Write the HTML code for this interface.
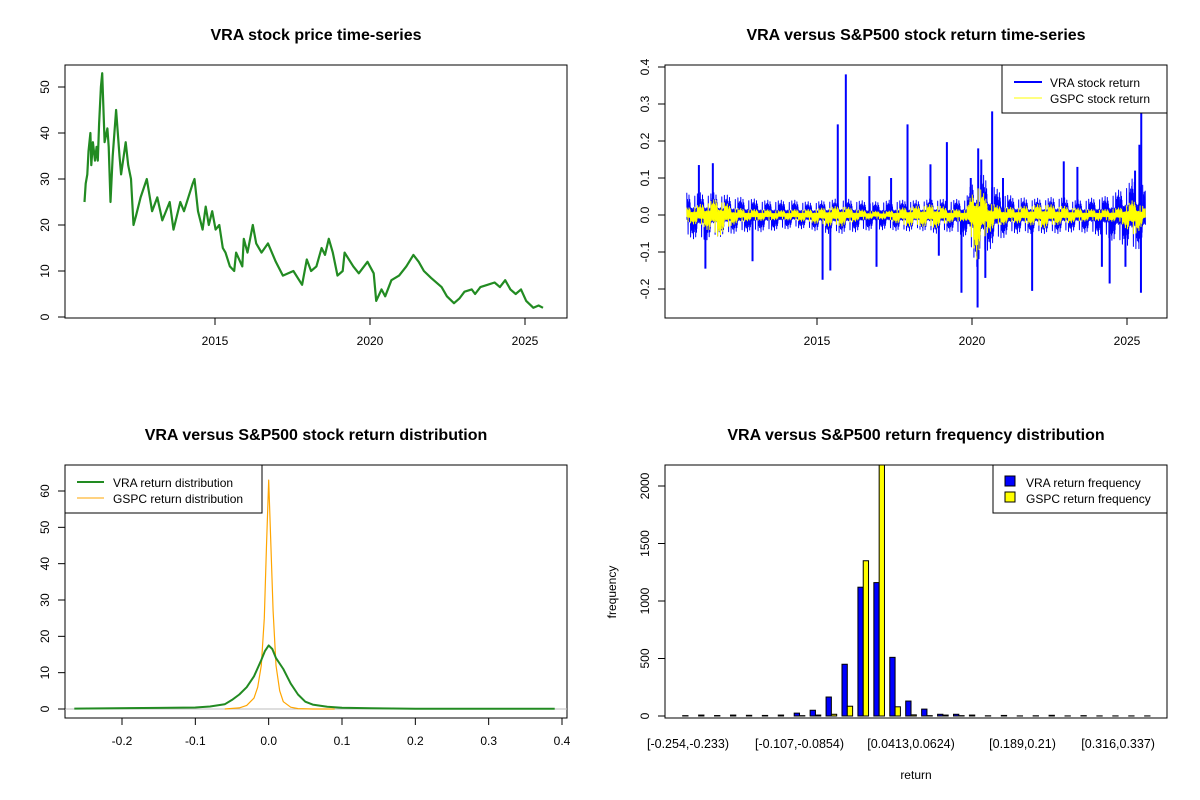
<!DOCTYPE html>
<html><head><meta charset="utf-8"><style>
body{margin:0;background:#fff}
svg{display:block;font-family:"Liberation Sans",Arial,sans-serif}
</style></head><body>
<svg id="svg" width="1200" height="800" viewBox="0 0 1200 800" xmlns="http://www.w3.org/2000/svg">
<rect width="1200" height="800" fill="#fff"/>
</svg>
<script>
// ---- panel 1: price ----
const priceYears=[2010.79,2010.83,2010.88,2010.92,2010.98,2011.01,2011.06,2011.13,2011.18,2011.22,2011.26,2011.32,2011.36,2011.44,2011.53,2011.57,2011.63,2011.70,2011.81,2011.92,2011.97,2012.12,2012.20,2012.29,2012.37,2012.45,2012.60,2012.80,2012.97,2013.14,2013.30,2013.54,2013.66,2013.88,2014.00,2014.28,2014.34,2014.45,2014.60,2014.70,2014.80,2014.91,2015.02,2015.14,2015.25,2015.34,2015.48,2015.62,2015.68,2015.88,2015.93,2016.05,2016.22,2016.33,2016.50,2016.71,2016.96,2017.19,2017.53,2017.81,2017.96,2018.10,2018.27,2018.44,2018.55,2018.67,2018.80,2018.95,2019.12,2019.18,2019.46,2019.64,2019.92,2020.12,2020.20,2020.37,2020.49,2020.69,2020.94,2021.17,2021.40,2021.57,2021.74,2021.97,2022.31,2022.48,2022.71,2022.88,2023.05,2023.28,2023.39,2023.56,2023.79,2024.02,2024.19,2024.36,2024.53,2024.70,2024.87,2025.04,2025.27,2025.44,2025.58];
const priceVals=[25,29,31,36,40,33,38,34,37,34,42,50,53,38,41,37,25,35,45,35,31,38,33,30,20,22,26,30,23,26,21,25,19,25,23,29,30,23,19,24,20,23,19,20,15,14,11,10,14,11,17,14,20,16,14,16,12,9,10,7,12.5,10,11,15,13.5,17,14,9,10,14,11,9.5,12,9.5,3.5,6,4.5,8,9,11,13.5,12,10,8.5,6.5,4.5,3,4,5.5,6,5,6.5,7,7.5,6.5,8,6,5,6,3.5,2,2.5,2];
const priceTicksY=[0,10,20,30,40,50];
const yearTicks=[2015,2020,2025];
// ---- panel 2: returns ----
const bandYears=[2010.8,2011.3,2011.8,2012.3,2012.8,2013.3,2013.8,2014.3,2014.8,2015.3,2015.8,2016.3,2016.8,2017.3,2017.8,2018.3,2018.8,2019.3,2019.8,2020.15,2020.5,2020.8,2021.3,2021.8,2022.3,2022.8,2023.3,2023.8,2024.3,2024.8,2025.2,2025.6];
const vraHi=[0.06,0.06,0.06,0.05,0.045,0.04,0.04,0.04,0.035,0.04,0.045,0.04,0.035,0.04,0.04,0.04,0.045,0.04,0.045,0.12,0.1,0.07,0.05,0.045,0.045,0.05,0.04,0.045,0.05,0.07,0.1,0.08];
const vraLo=[-0.06,-0.07,-0.06,-0.05,-0.045,-0.045,-0.04,-0.035,-0.04,-0.05,-0.05,-0.045,-0.04,-0.04,-0.045,-0.04,-0.05,-0.045,-0.06,-0.14,-0.1,-0.07,-0.05,-0.05,-0.05,-0.05,-0.045,-0.05,-0.06,-0.08,-0.1,-0.08];
const gspcHi=[0.02,0.03,0.045,0.02,0.015,0.015,0.012,0.015,0.015,0.02,0.025,0.015,0.01,0.01,0.02,0.025,0.03,0.015,0.015,0.09,0.04,0.025,0.02,0.025,0.03,0.025,0.02,0.015,0.015,0.02,0.04,0.02];
const gspcLo=[-0.02,-0.03,-0.06,-0.025,-0.015,-0.015,-0.012,-0.015,-0.02,-0.03,-0.03,-0.015,-0.01,-0.012,-0.03,-0.03,-0.035,-0.02,-0.015,-0.12,-0.05,-0.03,-0.02,-0.025,-0.035,-0.025,-0.02,-0.015,-0.015,-0.02,-0.06,-0.02];
const spikeYears=[2011.19,2011.64,2015.67,2015.93,2016.69,2017.39,2017.92,2018.66,2019.19,2019.96,2020.20,2020.30,2020.65,2021.0,2022.96,2023.40,2025.46,2025.40,2025.26,2011.40,2012.92,2015.18,2015.43,2016.92,2018.93,2019.66,2020.18,2020.43,2021.94,2024.44,2024.19,2025.45,2024.95];
const spikeVals=[0.135,0.14,0.245,0.38,0.105,0.10,0.245,0.137,0.197,0.10,0.18,0.15,0.28,0.10,0.145,0.13,0.28,0.19,0.12,-0.145,-0.125,-0.175,-0.15,-0.14,-0.11,-0.21,-0.25,-0.17,-0.205,-0.185,-0.14,-0.21,-0.14];
const retTicksY=[-0.2,-0.1,0,0.1,0.2,0.3,0.4];
// ---- panel 3: densities ----
const vraDensX=[-0.265,-0.15,-0.1,-0.08,-0.06,-0.05,-0.04,-0.03,-0.02,-0.01,-0.005,0,0.005,0.01,0.02,0.03,0.04,0.05,0.06,0.08,0.1,0.14,0.2,0.39];
const vraDensY=[0.1,0.3,0.4,0.7,1.3,2.5,4,6,9,13.5,16,17.5,16.5,14,11,7,4,2,1.2,0.6,0.35,0.2,0.05,0.05];
const gspcDensX=[-0.06,-0.04,-0.03,-0.02,-0.015,-0.01,-0.006,-0.003,0,0.003,0.006,0.01,0.015,0.02,0.03,0.04,0.06,0.09];
const gspcDensY=[0,0.3,1,3,6,12,25,45,63,45,27,12,5,2,0.5,0.1,0,0];
const densTicksX=[-0.2,-0.1,0,0.1,0.2,0.3,0.4];
const densTicksXLab=["-0.2","-0.1","0.0","0.1","0.2","0.3","0.4"];
const densTicksY=[0,10,20,30,40,50,60];
// ---- panel 4: histogram ----
const binLabels=["[-0.254,-0.233)","[-0.107,-0.0854)","[0.0413,0.0624)","[0.189,0.21)","[0.316,0.337)"];
const binLabelIdx=[0,7,14,21,27];
const vraFreq=[3,8,4,8,6,5,8,25,50,165,450,1120,1160,510,130,60,15,15,8,2,5,1,2,6,1,3,1,1,1,1];
const gspcFreq=[0,0,0,0,0,0,0,3,8,15,85,1350,2230,80,10,3,8,3,0,0,0,0,0,0,0,0,0,0,0,0];
const freqTicks=[0,500,1000,1500,2000];

const S=document.getElementById('svg');
function el(t,a,txt){const e=document.createElementNS('http://www.w3.org/2000/svg',t);for(const k in a)e.setAttribute(k,a[k]);if(txt!==undefined)e.textContent=txt;S.appendChild(e);return e;}
function lin(d0,d1,r0,r1){return v=>r0+(v-d0)/(d1-d0)*(r1-r0);}
function box(x0,y0,x1,y1,name){const b=el('rect',{x:x0,y:y0,width:x1-x0,height:y1-y0,fill:'none',stroke:'#000','stroke-width':1});

}
function title(x,y,t,name){const e=el('text',{x:x,y:y,'text-anchor':'middle','font-size':16,'font-weight':'bold'},t);

}
function xAxis(ticks,labs,sx,yb,name){const y=yb+0;el('line',{x1:sx(ticks[0]),x2:sx(ticks[ticks.length-1]),y1:y,y2:y,stroke:'#000'});
ticks.forEach((t,i)=>{el('line',{x1:sx(t),x2:sx(t),y1:y,y2:y+7,stroke:'#000'});const e=el('text',{x:sx(t),y:y+27,'text-anchor':'middle','font-size':12},labs[i]);

});}
function yAxis(ticks,labs,sy,xl,name){el('line',{x1:xl,x2:xl,y1:sy(ticks[0]),y2:sy(ticks[ticks.length-1]),stroke:'#000'});
ticks.forEach((t,i)=>{el('line',{x1:xl-7,x2:xl,y1:sy(t),y2:sy(t),stroke:'#000'});const e=el('text',{x:xl-16,y:sy(t),'text-anchor':'middle','font-size':12,transform:`rotate(-90 ${xl-16} ${sy(t)})`},labs[i]);

});}
function poly(xs,ys,sx,sy,col,w,name){const p=xs.map((x,i)=>sx(x).toFixed(1)+','+sy(ys[i]).toFixed(1)).join(' ');const e=el('polyline',{points:p,fill:'none',stroke:col,'stroke-width':w,'stroke-linejoin':'round'});

return e;}

// Panel 1
{const X0=65,X1=567,Y0=65,Y1=318;
const sx=lin(2015,2020,215,370),sy=lin(0,50,317,87);
box(X0,Y0,X1,Y1,'price-plot-box');title(316,40,'VRA stock price time-series','price-chart-title');
poly(priceYears,priceVals,sx,sy,'#228B22',2.2,'vra-price-line');
xAxis(yearTicks,yearTicks.map(String),sx,Y1,'price-x-axis');yAxis(priceTicksY,priceTicksY.map(String),sy,X0,'price-y-axis');}

// Panel 2
{const X0=665,X1=1167,Y0=65,Y1=318;
const sx=lin(2015,2020,817,972),sy=lin(0,0.4,215,67);
box(X0,Y0,X1,Y1,'return-plot-box');title(916,40,'VRA versus S&P500 stock return time-series','return-chart-title');
const pat=[1,0.2,0.5,0.1,0.7,0.3,0.15,0.85,0.4,0.05,0.6,0.25,0.9,0.1,0.45,0.3,0.7,0.2,0.55,0.12,0.35,0.95,0.18,0.5,0.08,0.65,0.3,0.4,0.22,0.75,0.1,0.6,0.28,0.45,0.15,0.8,0.33];
function band(hi,lo,col,w,name){const xs=[],ys=[];let k=0;
for(let i=0;i<bandYears.length-1;i++){const a=bandYears[i],b=bandYears[i+1];const n=Math.round((b-a)*170);
for(let j=0;j<n;j++){const t=a+(b-a)*j/n;const f=pat[k%pat.length];const h=hi[i]+(hi[i+1]-hi[i])*j/n,l=lo[i]+(lo[i+1]-lo[i])*j/n;xs.push(t);ys.push(k%2?l*f:h*f);k++;}}
poly(xs,ys,sx,sy,col,w,name);}
band(vraHi,vraLo,'#0000FF',1,'vra-return-band');
spikeYears.forEach((t,i)=>{const e=el('line',{x1:sx(t),x2:sx(t),y1:sy(0),y2:sy(spikeVals[i]),stroke:'#0000FF','stroke-width':2});

});
band(gspcHi,gspcLo,'#FFFF00',1,'gspc-return-band');
xAxis(yearTicks,yearTicks.map(String),sx,Y1,'return-x-axis');yAxis(retTicksY,retTicksY.map(v=>v===0?'0.0':String(v)),sy,X0,'return-y-axis');
el('rect',{x:1002,y:65,width:165,height:48,fill:'#fff',stroke:'#000'});
el('line',{x1:1014,x2:1042,y1:82,y2:82,stroke:'#0000FF','stroke-width':2});el('text',{x:1050,y:87,'font-size':12},'VRA stock return');
el('line',{x1:1014,x2:1042,y1:98,y2:98,stroke:'#FFFF00','stroke-width':1});el('text',{x:1050,y:103,'font-size':12},'GSPC stock return');}

// Panel 3
{const X0=65,X1=567,Y0=465,Y1=718;
const sx=lin(-0.2,0.4,122,562),sy=lin(0,60,709,491);
box(X0,Y0,X1,Y1,'density-plot-box');title(316,440,'VRA versus S&P500 stock return distribution','density-chart-title');
el('line',{x1:X0,x2:X1,y1:sy(0),y2:sy(0),stroke:'#bebebe'});
poly(gspcDensX,gspcDensY,sx,sy,'#FFA500',1.2,'gspc-density-line');
poly(vraDensX,vraDensY,sx,sy,'#228B22',2,'vra-density-line');
xAxis(densTicksX,densTicksXLab,sx,Y1,'density-x-axis');yAxis(densTicksY,densTicksY.map(String),sy,X0,'density-y-axis');
el('rect',{x:65,y:465,width:197,height:48,fill:'#fff',stroke:'#000'});
el('line',{x1:77,x2:104,y1:482,y2:482,stroke:'#228B22','stroke-width':2});el('text',{x:113,y:487,'font-size':12},'VRA return distribution');
el('line',{x1:77,x2:104,y1:498,y2:498,stroke:'#FFA500','stroke-width':1});el('text',{x:113,y:503,'font-size':12},'GSPC return distribution');}

// Panel 4
{const X0=665,X1=1167,Y0=465,Y1=718;
const sy=lin(0,2000,716,486);const gc=i=>688+i*15.93;const u=5.31;
const cp=el('clipPath',{id:'c4'});const r=document.createElementNS('http://www.w3.org/2000/svg','rect');
r.setAttribute('x',X0);r.setAttribute('y',Y0);r.setAttribute('width',X1-X0);r.setAttribute('height',Y1-Y0);cp.appendChild(r);
const g=el('g',{'clip-path':'url(#c4)'});
vraFreq.forEach((v,i)=>{const b=document.createElementNS('http://www.w3.org/2000/svg','rect');
b.setAttribute('x',gc(i)-u);b.setAttribute('y',sy(v));b.setAttribute('width',u);b.setAttribute('height',sy(0)-sy(v));b.setAttribute('fill','#0000FF');b.setAttribute('stroke','#000');b.setAttribute('stroke-width',1);

g.appendChild(b);
const c=document.createElementNS('http://www.w3.org/2000/svg','rect');
c.setAttribute('x',gc(i));c.setAttribute('y',sy(gspcFreq[i]));c.setAttribute('width',u);c.setAttribute('height',sy(0)-sy(gspcFreq[i]));c.setAttribute('fill','#FFFF00');c.setAttribute('stroke','#000');c.setAttribute('stroke-width',1);

g.appendChild(c);});
box(X0,Y0,X1,Y1,'histogram-plot-box');title(916,440,'VRA versus S&P500 return frequency distribution','histogram-chart-title');
binLabelIdx.forEach((b,i)=>{const e=el('text',{x:gc(b),y:748,'text-anchor':'middle','font-size':12.5},binLabels[i]);

});
yAxis(freqTicks,freqTicks.map(String),sy,X0,'histogram-y-axis');
el('text',{x:916,y:779,'text-anchor':'middle','font-size':12},'return');
el('text',{x:616,y:592,'text-anchor':'middle','font-size':12,transform:'rotate(-90 616 592)'},'frequency');
el('rect',{x:993,y:465,width:174,height:48,fill:'#fff',stroke:'#000'});
el('rect',{x:1005,y:476,width:10,height:10,fill:'#0000FF',stroke:'#000'});el('text',{x:1026,y:487,'font-size':12},'VRA return frequency');
el('rect',{x:1005,y:492,width:10,height:10,fill:'#FFFF00',stroke:'#000'});el('text',{x:1026,y:503,'font-size':12},'GSPC return frequency');}
</script>
</body></html>
